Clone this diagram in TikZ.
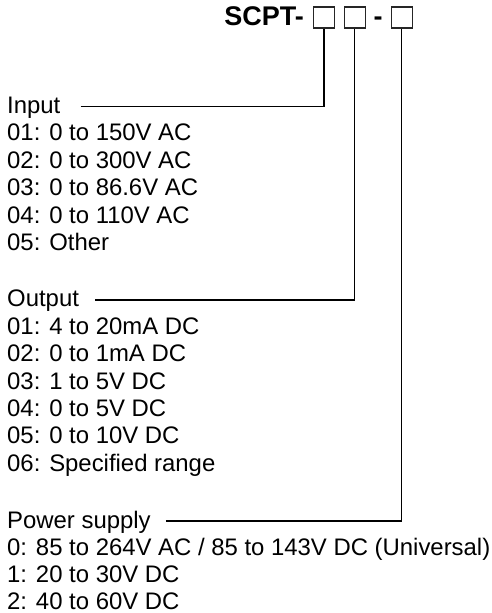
\documentclass[tikz,border=0pt]{standalone}
\usepackage{fontspec}
\setmainfont{Liberation Sans}
\begin{document}
\begin{tikzpicture}[x=1pt,y=-1pt,
  txt/.style={anchor=base west, inner sep=0pt, font=\fontsize{23.9}{27.4}\selectfont},
  code/.style={anchor=base, inner sep=0pt, font=\fontsize{27}{30}\selectfont\bfseries},
  slot/.style={draw=black!85, line width=1.2pt, minimum size=21pt, inner sep=0pt},
  lead/.style={line width=1.6pt}]
\useasboundingbox (0,0) rectangle (491,613);
% model code
\node[code, anchor=base east] (sc) at (304,25) {SCPT-};
\node[slot] (b1) at (324,17.5) {};
\node[slot] (b2) at (354.6,17.5) {};
\node[code] (dash) at (378,25) {-};
\node[slot] (b3) at (401.6,17.5) {};
% input
\node[txt] (inp) at (7,113.5) {Input};
\foreach \t [count=\i] in {01: 0 to 150V AC, 02: 0 to 300V AC, 03: 0 to 86.6V AC,
    04: 0 to 110V AC, 05: Other}
  \node[txt] (in\i) at (7,113.5+27.4*\i) {\t};
% output
\node[txt] (outp) at (7,306.8) {Output};
\foreach \t [count=\i] in {01: 4 to 20mA DC, 02: 0 to 1mA DC, 03: 1 to 5V DC,
    04: 0 to 5V DC, 05: 0 to 10V DC, 06: Specified range}
  \node[txt] (out\i) at (7,306.8+27.4*\i) {\t};
% power supply
\node[txt] (pwr) at (7,528) {Power supply};
\foreach \t [count=\i] in {0: 85 to 264V AC / 85 to 143V DC (Universal),
    1: 20 to 30V DC, 2: 40 to 60V DC}
  \node[txt] (ps\i) at (7,528+27.2*\i) {\t};
% leaders
\draw[lead] ([xshift=20pt,yshift=7pt]inp.base east) -| (b1.south);
\draw[lead] ([xshift=16pt,yshift=7pt]outp.base east) -| (b2.south);
\draw[lead] ([xshift=15pt,yshift=7pt]pwr.base east) -| (b3.south);
\end{tikzpicture}
\end{document}
